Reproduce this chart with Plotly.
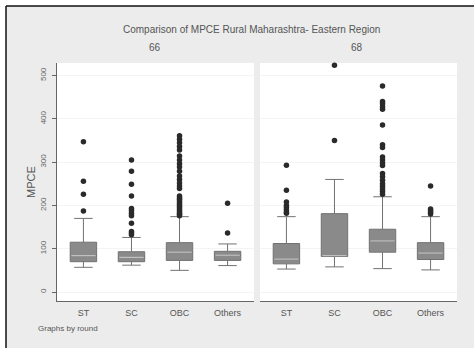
import plotly.graph_objects as go

categories = ["ST", "SC", "OBC", "Others"]
rounds = ["66", "68"]

# round 66
q1_66 = [70, 70, 73, 73]
med_66 = [84, 80, 92, 85]
q3_66 = [115, 93, 114, 94]
lo_66 = [57, 62, 50, 61]
hi_66 = [170, 126, 174, 111]
out_66 = [
    [347, 256, 226, 187],
    [305, 279, 249, 222, 193, 188, 182, 176, 159, 140, 136, 132],
    [361, 353, 345, 336, 328, 314, 305, 296, 289, 279, 268, 260, 252, 245, 239,
     222, 218, 214, 210, 206, 202, 198, 194, 190, 186, 182, 179, 176],
    [205, 136],
]

# round 68
q1_68 = [65, 82, 92, 75]
med_68 = [76, 84, 118, 90]
q3_68 = [112, 181, 145, 114]
lo_68 = [53, 58, 54, 51]
hi_68 = [174, 260, 220, 174]
out_68 = [
    [293, 235, 208, 200, 195, 190, 185, 182],
    [524, 350],
    [476, 440, 435, 428, 422, 386, 340, 334, 312, 305, 298, 292, 274, 266, 258,
     250, 244, 238, 232, 226],
    [245, 192, 188, 184, 180],
]

title = "Comparison of MPCE Rural Maharashtra- Eastern Region"
note = "Graphs by round"

W, H = 474, 348
ML, MR, MT, MB = 57, 17, 63, 47
PW, PH = W - ML - MR, H - MT - MB
BOXW = 0.55
pos = list(range(len(categories)))

FILL = "#8a8a8a"
EDGE = "#727272"
MEDC = "#c4c4c4"
DOT = "#2a2a2a"
FONT = "Liberation Sans, Arial, sans-serif"

fig = go.Figure()
panels = [
    ("x", "y", q1_66, med_66, q3_66, lo_66, hi_66, out_66),
    ("x2", "y2", q1_68, med_68, q3_68, lo_68, hi_68, out_68),
]
for xa, ya, q1, med, q3, lo, hi, outs in panels:
    fig.add_trace(go.Box(
        x=pos, q1=q1, median=med, q3=q3, lowerfence=lo, upperfence=hi,
        width=BOXW, whiskerwidth=0.7, fillcolor=FILL,
        line=dict(color=EDGE, width=1), boxpoints=False,
        xaxis=xa, yaxis=ya, showlegend=False, hoverinfo="skip"))
    for i, m in enumerate(med):
        fig.add_trace(go.Scatter(
            x=[pos[i] - BOXW / 2 + 0.02, pos[i] + BOXW / 2 - 0.02], y=[m, m],
            mode="lines", line=dict(color=MEDC, width=1.2),
            xaxis=xa, yaxis=ya, showlegend=False, hoverinfo="skip"))
    for i, o in enumerate(outs):
        fig.add_trace(go.Scatter(
            x=[pos[i]] * len(o), y=o, mode="markers", cliponaxis=False,
            marker=dict(color=DOT, size=5.5),
            xaxis=xa, yaxis=ya, showlegend=False, hoverinfo="skip"))

def px2paperx(px):
    return (px - ML) / PW

def py2papery(py):
    return (H - MB - py) / PH

d1 = [0, 0.4925]
d2 = [0.5075, 1]

shapes = [
    dict(type="rect", xref="paper", yref="paper",
         x0=px2paperx(6), x1=px2paperx(W + 5), y0=py2papery(H + 5), y1=py2papery(6),
         fillcolor="#ececec", line=dict(width=0), layer="below"),
    dict(type="rect", xref="paper", yref="paper",
         x0=d1[0], x1=d1[1], y0=0, y1=1,
         fillcolor="#ffffff", line=dict(width=0), layer="below"),
    dict(type="rect", xref="paper", yref="paper",
         x0=d2[0], x1=d2[1], y0=0, y1=1,
         fillcolor="#ffffff", line=dict(width=0), layer="below"),
    dict(type="line", xref="paper", yref="paper",
         x0=px2paperx(6), x1=px2paperx(W + 5), y0=py2papery(6), y1=py2papery(6),
         line=dict(color="#111111", width=1.5)),
    dict(type="line", xref="paper", yref="paper",
         x0=px2paperx(6), x1=px2paperx(6), y0=py2papery(6), y1=py2papery(H + 5),
         line=dict(color="#111111", width=1.5)),
]

xr = [-0.55, 3.55]
yr = [-20.8, 529]
xcommon = dict(range=xr, tickmode="array", tickvals=pos, ticktext=categories,
               showline=True, linecolor="#666666", linewidth=1,
               ticks="outside", ticklen=3, tickcolor="rgba(0,0,0,0)",
               showgrid=False, zeroline=False, automargin=False,
               tickfont=dict(family=FONT, size=9, color="#555555"), fixedrange=True)

def ann(text, px, py, size, xanchor="center"):
    return dict(text=text, x=px2paperx(px), y=py2papery(py), xref="paper", yref="paper",
                xanchor=xanchor, yanchor="middle", showarrow=False,
                font=dict(family=FONT, size=size, color="#555555"))

annotations = [
    ann(title, 251, 29, 10),
    ann(rounds[0], 155, 47, 10),
    ann(rounds[1], 357, 47, 10),
    ann(note, 36, 328, 8, "left"),
]

fig.update_layout(
    width=W, height=H,
    margin=dict(l=ML, r=MR, t=MT, b=MB, pad=0, autoexpand=False),
    paper_bgcolor="#ffffff", plot_bgcolor="rgba(0,0,0,0)",
    xaxis=dict(domain=d1, **xcommon),
    xaxis2=dict(domain=d2, anchor="y2", **xcommon),
    yaxis=dict(range=yr, tickvals=[0, 100, 200, 300, 400, 500], tickangle=-90,
               showline=True, linecolor="#666666", linewidth=1,
               ticks="outside", ticklen=4, tickcolor="#666666",
               ticklabelstandoff=3,
               showgrid=True, gridcolor="#f4f4f4", zeroline=False, automargin=False,
               tickfont=dict(family=FONT, size=8, color="#666666"),
               title=dict(text="MPCE", font=dict(family=FONT, size=11, color="#555555"),
                          standoff=0), fixedrange=True),
    yaxis2=dict(range=yr, anchor="x2", matches="y", showticklabels=False,
                showline=False, ticks="", showgrid=True, gridcolor="#f4f4f4",
                zeroline=False, automargin=False,
                tickvals=[0, 100, 200, 300, 400, 500], fixedrange=True),
    shapes=shapes,
    annotations=annotations,
    font=dict(family=FONT),
)

fig.write_html("out.html", config={"displayModeBar": False},
               post_script="document.body.style.margin='0';document.body.style.overflow='hidden';")
